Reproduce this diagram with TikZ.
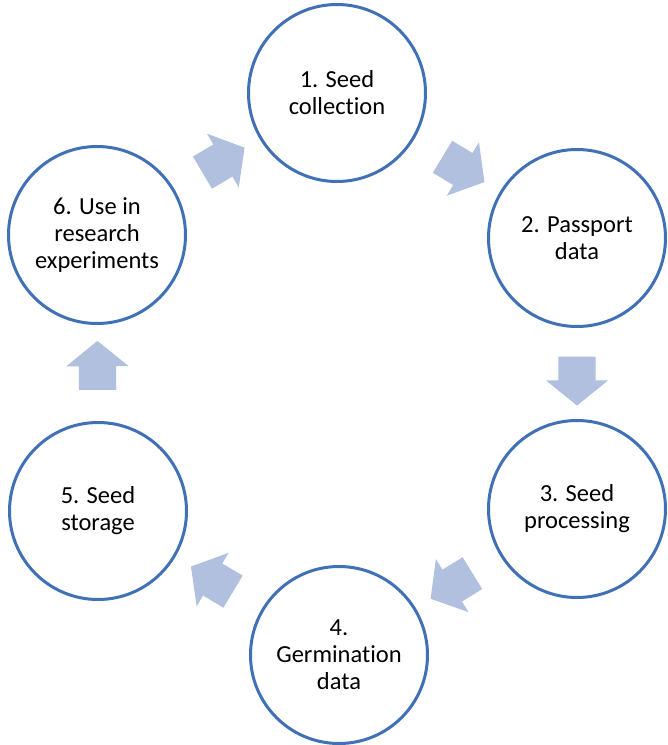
\documentclass[tikz,border=0pt]{standalone}
\usepackage{fontspec}
\setmainfont[Ligatures=NoCommon]{Carlito}
\usetikzlibrary{shapes.arrows}
\definecolor{ringblue}{RGB}{64,112,182}
\definecolor{arrowfill}{RGB}{176,192,222}
\tikzset{
  stage/.style={circle, draw=ringblue, line width=3pt, fill=white, minimum size=177pt,
    inner sep=0pt, align=center, font=\fontsize{24.5pt}{27pt}\selectfont, text=black},
  blockarrow/.style={single arrow, fill=arrowfill, draw=none, inner xsep=0pt, inner ysep=18.5pt,
    single arrow head extend=12.5pt, single arrow tip angle=102, minimum height=49pt,
    sloped, allow upside down, pos=0.5}
}
\begin{document}
\begin{tikzpicture}[x=1pt,y=-1pt]
\useasboundingbox (0,0) rectangle (668,745);
\node[stage] (c1) at (337,93) {1. Seed\\collection};
\node[stage] (c2) at (577,238) {2. Passport\\data};
\node[stage] (c3) at (577,509) {3. Seed\\processing};
\node[stage] (c4) at (339,655) {4.\\Germination\\data};
\node[stage] (c5) at (98,511) {5. Seed\\storage};
\node[stage] (c6) at (97,235) {6. Use in\\research\\experiments};
\path (c1.center) -- node[blockarrow] (a12) {} (c2.center);
\path (c2.center) -- node[blockarrow] (a23) {} (c3.center);
\path (c3.center) -- node[blockarrow] (a34) {} (c4.center);
\path (c4.center) -- node[blockarrow] (a45) {} (c5.center);
\path (c5.center) -- node[blockarrow] (a56) {} (c6.center);
\path (c6.center) -- node[blockarrow] (a61) {} (c1.center);
\end{tikzpicture}
\end{document}
